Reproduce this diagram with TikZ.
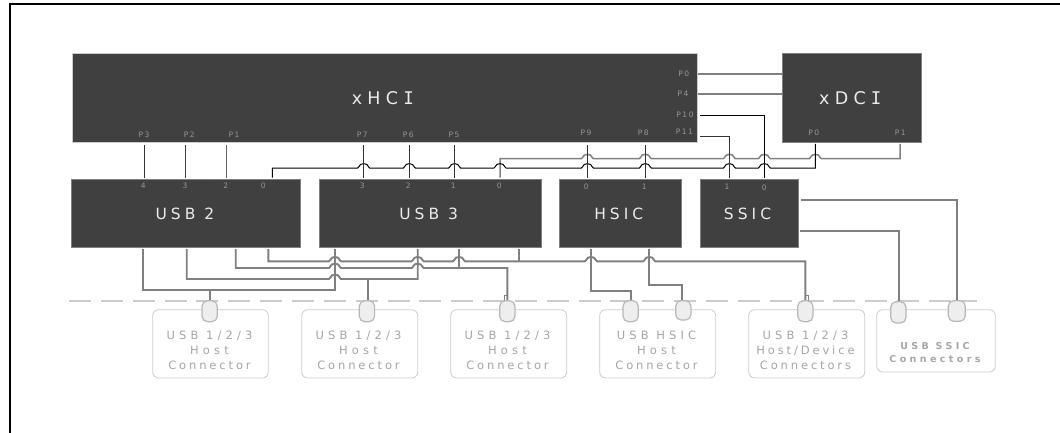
\documentclass[tikz,border=0pt]{standalone}
\usepackage{fontspec}
\setmainfont{DejaVu Sans}
\newfontfamily\blockfont[LetterSpace=26]{DejaVu Sans}
\newfontfamily\ctrlfont[LetterSpace=30]{DejaVu Sans}
\newfontfamily\serifJ{DejaVu Sans Mono}
\newfontfamily\portfont[LetterSpace=20]{DejaVu Sans}
\newfontfamily\connfont[LetterSpace=25]{DejaVu Sans}
\newfontfamily\connwide[LetterSpace=36]{DejaVu Sans}
\newfontfamily\ssicfont[LetterSpace=36]{DejaVu Sans}
\definecolor{blockfill}{HTML}{404040}
\definecolor{wiregray}{HTML}{808080}
\definecolor{wiredark}{HTML}{333333}
\definecolor{boxedge}{HTML}{CCCCCC}
\definecolor{plugfill}{HTML}{EEEEEE}
\definecolor{porttext}{HTML}{959595}
\definecolor{conntext}{HTML}{A6A6A6}
\newcommand{\hopat}[2]{-- ({#1-6},{#2}) -- ({#1-5},{#2-1}) .. controls ({#1-4},{#2-5.5}) and ({#1+4},{#2-5.5}) .. ({#1+5},{#2-1}) -- ({#1+6},{#2})}
\newcommand{\CI}{\kern.3em{\serifJ I}}
\newcommand{\W}[1]{{\connwide #1}}
\tikzset{
  block/.style={draw=#1,fill=blockfill,line width=.6pt,inner sep=0pt,outer sep=0pt,text=white!92!black,font=\fontsize{15.5}{18}\blockfont,anchor=north west},
  block/.default=wiregray,
  ctrl/.style={font=\fontsize{17.5}{20}\ctrlfont},
  port/.style={text=porttext,font=\fontsize{7.5}{9}\portfont,inner sep=0pt},
  wireg/.style={draw=wiregray,line width=1.9pt,line join=miter},
  wired/.style={draw=wiredark,line width=1.1pt},
  wirek/.style={draw=black,line width=1pt},
  cbox/.style={draw=boxedge,fill=white,line width=.8pt,rounded corners=6pt,inner sep=0pt,outer sep=0pt,anchor=north west},
  ctext/.style={text=conntext,font=\fontsize{11.5}{14.7}\connfont,align=center,inner sep=0pt},
  plug/.style={draw=boxedge!90!black,fill=plugfill,line width=1.2pt,rounded corners=5.5pt,inner sep=0pt,outer sep=0pt,anchor=north west,minimum width=15.3pt},
  cut/.style={draw=boxedge,line width=1.8pt,dash pattern=on 22pt off 9.85pt},
  frameline/.style={draw=black,line width=2.2pt},
}
\begin{document}
\begin{tikzpicture}[x=1pt,y=-1pt]
\useasboundingbox (0,0) rectangle (1060,433);
\draw[frameline] (10,433) coordinate (fa) -- (10,4) coordinate (fb) -- (1060,4) coordinate (fc);

% dashed divider
\coordinate (dl) at (69,300.7);
\coordinate (dr) at (976.7,300.7);
\draw[cut] (dl) -- (dr);

% blocks
\node[block=boxedge,ctrl,minimum width=625.7pt,minimum height=89.2pt] (xhci) at (72,53.5) {xHC\CI\kern4pt};
\node[block,ctrl,minimum width=138.3pt,minimum height=88.5pt] (xdci) at (782.7,53.5) {xDC\CI\kern3pt};
\node[block,minimum width=229.7pt,minimum height=68.4pt] (usbtwo) at (71,179.3) {USB 2\kern2pt};
\node[block,minimum width=221.7pt,minimum height=68.4pt] (usbthree) at (319.3,179.3) {USB 3\kern3pt};
\node[block,minimum width=122pt,minimum height=68.4pt] (hsic) at (559.3,179.3) {HSIC\kern3pt};
\node[block,minimum width=97.6pt,minimum height=68.4pt] (ssic) at (700.7,179.3) {SSIC\kern4pt};

% port coordinates on the top side
\foreach \n/\x in {a/144.7,b/185.7,c/226.7,d/363.7,e/409.3,f/454.7,g/587.4,h/645.3}{
  \coordinate (t\n) at (\x,145);
  \coordinate (u\n) at (\x,177.5);
}
\coordinate (uz) at (272.3,177.5);
\coordinate (uy) at (500,177.5);
\coordinate (us) at (729.4,177.5);
\coordinate (ur) at (764.3,177.5);
\coordinate (xa) at (815.3,144);
\coordinate (xb) at (900,144);

% wires between controllers and blocks
\draw[wired] (ta) -- (ua);
\draw[wired,draw=blockfill] (tb) -- (ub);
\draw[wired,draw=black!60] (tc) -- (uc);
\draw[wireg] (698,74) coordinate (pa) -- (782.7,74) coordinate (pb);
\draw[wireg] (698,94) coordinate (pc) -- (782.7,94) coordinate (pd);

% long buses with hops
\draw[wireg,line width=1.5pt] (uy) -- (500,158.7) \hopat{587.4}{158.7} \hopat{645.3}{158.7} \hopat{729.4}{158.7} \hopat{764.3}{158.7} \hopat{815.3}{158.7} -- (900,158.7) -- (xb);
\draw[wirek] (uz) -- (272.3,168) \hopat{363.7}{168} \hopat{409.3}{168} \hopat{454.7}{168} \hopat{500}{168} \hopat{587.4}{168} \hopat{645.3}{168} \hopat{729.4}{168} \hopat{764.3}{168} -- (815.3,168) -- (xa);
\draw[wired] (td) -- (ud);
\draw[wired] (te) -- (ue);
\draw[wired] (tf) -- (uf);
\draw[wired] (tg) -- (ug);
\draw[wired] (th) -- (uh);
\draw[wirek] (700,115.3) coordinate (pe) -- (764.3,115.3) -- (ur);
\draw[wired] (700,136.4) coordinate (pf) -- (729.4,136.4) -- (us);

% SSIC outputs
\draw[wireg] (801.3,200) coordinate (sa) -- (957,200) -- (957,301) coordinate (sb);
\draw[wireg] (800,231) coordinate (sc) -- (898.7,231) -- (898.7,302) coordinate (sd);

% lower wires
\foreach \n/\x in {a/143.3,b/186.7,c/235.7,d/268.3,e/335,f/417.7,g/459,h/518.7,i/591,j/649.3}{
  \coordinate (l\n) at (\x,249);
}
\draw[wireg] (la) -- (143.3,289.7) -- (335,289.7) -- (le);
\draw[wireg] (209.7,289.7) coordinate (ja) -- (209.7,301) coordinate (jb);
\draw[wireg] (lb) -- (186.7,279) \hopat{335}{279} -- (417.7,279) -- (lf);
\draw[wireg] (367.7,279) coordinate (jc) -- (367.7,301) coordinate (jd);
\draw[wireg] (lc) -- (235.7,268) \hopat{335}{268} \hopat{417.7}{268} -- (507.3,268) -- (507.3,301) coordinate (je);
\draw[wireg] (lg) -- (459,268);
\draw[wireg] (ld) -- (268.3,261.3) \hopat{335}{261.3} \hopat{417.7}{261.3} \hopat{459}{261.3} \hopat{591}{261.3} \hopat{649.3}{261.3} -- (805.3,261.3) -- (805.3,301) coordinate (jf);
\draw[wireg] (lh) -- (518.7,261.3);
\draw[wireg] (li) -- (591,291) -- (631,291) -- (631,301) coordinate (jg);
\draw[wireg] (lj) -- (649.3,284.7) -- (682.3,284.7) -- (682.3,301) coordinate (jh);
\draw[wireg,line width=.9pt] (507.3,295) -- (504,295) -- (504,301);
\draw[wireg,line width=.9pt] (805.3,295) -- (808.5,295) -- (808.5,301);

% port labels
\node[port] (lpa) at (144,135) {P3};
\node[port] (lpb) at (189.3,135) {P2};
\node[port] (lpc) at (234,135) {P1};
\node[port] (lpd) at (362.3,135) {P7};
\node[port] (lpe) at (408.3,135) {P6};
\node[port] (lpf) at (454,135) {P5};
\node[port] (lpg) at (586,133) {P9};
\node[port] (lph) at (643.3,133) {P8};
\node[port] (lpi) at (683.7,74) {P0};
\node[port] (lpj) at (683,94) {P4};
\node[port] (lpk) at (685,115) {P10};
\node[port] (lpl) at (684.3,132) {P11};
\node[port] (lpm) at (813.7,133) {P0};
\node[port] (lpn) at (900.3,133) {P1};
\node[port] (na) at (143.3,185.5) {4};
\node[port] (nb) at (185,185.5) {3};
\node[port] (nc) at (225.7,185.5) {2};
\node[port] (nd) at (263.3,185.5) {0};
\node[port,text=black,font=\fontsize{4}{5}\portfont] (nk) at (206.7,184.5) {.};
\node[port] (ne) at (362.3,185.5) {3};
\node[port] (nf) at (408.3,185.5) {2};
\node[port] (ng) at (453.3,185.5) {1};
\node[port] (nh) at (499.3,185.5) {0};
\node[port] (ni) at (586.3,187) {0};
\node[port] (nj) at (644.3,187) {1};
\node[port] (nl) at (727,187) {1};
\node[port] (nm) at (764.3,188) {0};

% connector boxes
\node[cbox,minimum width=115.6pt,minimum height=68.3pt] (ca) at (152.7,309.7) {};
\node[cbox,minimum width=116pt,minimum height=68.3pt] (cb) at (301.7,309.7) {};
\node[cbox,minimum width=116pt,minimum height=68.3pt] (cc) at (450.7,309.7) {};
\node[cbox,minimum width=116pt,minimum height=68.3pt] (cd) at (599.7,309.7) {};
\node[cbox,minimum width=116pt,minimum height=68.3pt] (ce) at (748.7,309.7) {};
\node[cbox,minimum width=118.6pt,minimum height=62.3pt] (cf) at (876.7,309.7) {};
\node[ctext] (ta1) at (209.5,350.3) {\W{USB 1/2/3}\\\W{Host}\\Connector};
\node[ctext] (ta2) at (358.5,350.3) {\W{USB 1/2/3}\\\W{Host}\\Connector};
\node[ctext] (ta3) at (507.5,350.3) {\W{USB 1/2/3}\\\W{Host}\\Connector};
\node[ctext] (ta4) at (656.5,350.3) {\W{USB HSIC}\\\W{Host}\\Connector};
\node[ctext] (ta5) at (805.5,350.3) {\W{USB 1/2/3}\\Host/Device\\Connectors};
\node[ctext,font=\fontsize{9.5}{13.3}\ssicfont\bfseries] (ta6) at (935,352.8) {USB SSIC\\Connectors};

% plugs
\node[plug,minimum height=21pt] (pga) at (202,300.7) {};
\node[plug,minimum height=21pt] (pgb) at (359.3,300.7) {};
\node[plug,minimum height=21pt] (pgc) at (499.7,300.7) {};
\node[plug,minimum height=21pt] (pgd) at (623,300.7) {};
\node[plug,minimum height=19.3pt] (pge) at (675.7,300.7) {};
\node[plug,minimum height=21pt] (pgf) at (797.7,300.7) {};
\node[plug,minimum height=21.3pt] (pgg) at (890.7,301.7) {};
\node[plug,minimum height=20.6pt,minimum width=17pt] (pgh) at (948.3,300.7) {};
\end{tikzpicture}
\end{document}
